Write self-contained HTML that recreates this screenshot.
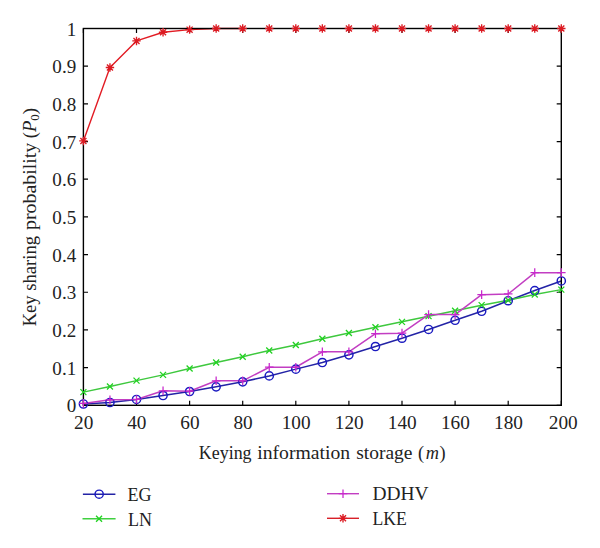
<!DOCTYPE html>
<html><head><meta charset="utf-8"><title>Key sharing probability</title>
<style>html,body{margin:0;padding:0;background:#fff;width:600px;height:548px;overflow:hidden}svg{display:block}</style>
</head><body><svg width="600" height="548" viewBox="0 0 600 548" font-family="'Liberation Serif', serif" font-size="18" fill="#222">
<rect width="600" height="548" fill="#fff"/>
<g><polyline points="83.40,403.98 109.95,402.47 136.50,399.46 163.05,395.50 189.60,391.51 216.15,386.84 242.70,381.83 269.25,375.91 295.80,369.13 322.35,362.53 348.90,354.81 375.45,346.52 402.00,338.23 428.55,329.45 455.10,320.29 481.65,311.29 508.20,300.74 534.75,290.56 561.30,280.96" fill="none" stroke="#2323a6" stroke-width="1.5" stroke-linejoin="round"/><polyline points="83.40,392.11 109.95,386.46 136.50,380.62 163.05,374.89 189.60,368.49 216.15,362.53 242.70,356.69 269.25,350.51 295.80,345.01 322.35,338.76 348.90,332.95 375.45,327.30 402.00,321.84 428.55,316.15 455.10,310.72 481.65,305.15 508.20,300.17 534.75,294.52 561.30,289.62" fill="none" stroke="#3ec83e" stroke-width="1.5" stroke-linejoin="round"/><polyline points="83.40,403.42 109.95,399.84 136.50,399.46 163.05,390.79 189.60,391.21 216.15,380.81 242.70,380.81 269.25,367.24 295.80,367.24 322.35,351.79 348.90,351.79 375.45,333.71 402.00,333.14 428.55,314.60 455.10,314.60 481.65,294.63 508.20,293.96 534.75,272.67 561.30,272.67" fill="none" stroke="#c23ec2" stroke-width="1.5" stroke-linejoin="round"/><polyline points="83.40,140.94 109.95,67.46 136.50,40.93 163.05,32.27 189.60,29.63 216.15,28.50 242.70,28.50" fill="none" stroke="#e21c24" stroke-width="1.4" stroke-linejoin="round"/></g>
<g><rect x="83.4" y="28.5" width="477.9" height="376.8" fill="none" stroke="#000" stroke-width="1.4"/><path d="M83.40,405.3V400.7M83.40,28.5V33.1" stroke="#000" stroke-width="1.2"/><path d="M136.50,405.3V400.7M136.50,28.5V33.1" stroke="#000" stroke-width="1.2"/><path d="M189.60,405.3V400.7M189.60,28.5V33.1" stroke="#000" stroke-width="1.2"/><path d="M242.70,405.3V400.7M242.70,28.5V33.1" stroke="#000" stroke-width="1.2"/><path d="M295.80,405.3V400.7M295.80,28.5V33.1" stroke="#000" stroke-width="1.2"/><path d="M348.90,405.3V400.7M348.90,28.5V33.1" stroke="#000" stroke-width="1.2"/><path d="M402.00,405.3V400.7M402.00,28.5V33.1" stroke="#000" stroke-width="1.2"/><path d="M455.10,405.3V400.7M455.10,28.5V33.1" stroke="#000" stroke-width="1.2"/><path d="M508.20,405.3V400.7M508.20,28.5V33.1" stroke="#000" stroke-width="1.2"/><path d="M561.30,405.3V400.7M561.30,28.5V33.1" stroke="#000" stroke-width="1.2"/><path d="M83.4,405.30H88.0M561.3,405.30H556.6999999999999" stroke="#000" stroke-width="1.2"/><path d="M83.4,367.62H88.0M561.3,367.62H556.6999999999999" stroke="#000" stroke-width="1.2"/><path d="M83.4,329.94H88.0M561.3,329.94H556.6999999999999" stroke="#000" stroke-width="1.2"/><path d="M83.4,292.26H88.0M561.3,292.26H556.6999999999999" stroke="#000" stroke-width="1.2"/><path d="M83.4,254.58H88.0M561.3,254.58H556.6999999999999" stroke="#000" stroke-width="1.2"/><path d="M83.4,216.90H88.0M561.3,216.90H556.6999999999999" stroke="#000" stroke-width="1.2"/><path d="M83.4,179.22H88.0M561.3,179.22H556.6999999999999" stroke="#000" stroke-width="1.2"/><path d="M83.4,141.54H88.0M561.3,141.54H556.6999999999999" stroke="#000" stroke-width="1.2"/><path d="M83.4,103.86H88.0M561.3,103.86H556.6999999999999" stroke="#000" stroke-width="1.2"/><path d="M83.4,66.18H88.0M561.3,66.18H556.6999999999999" stroke="#000" stroke-width="1.2"/><path d="M83.4,28.50H88.0M561.3,28.50H556.6999999999999" stroke="#000" stroke-width="1.2"/></g>
<g><circle cx="83.40" cy="403.98" r="4.1" fill="none" stroke="#1a1ac0" stroke-width="1.45"/><circle cx="109.95" cy="402.47" r="4.1" fill="none" stroke="#1a1ac0" stroke-width="1.45"/><circle cx="136.50" cy="399.46" r="4.1" fill="none" stroke="#1a1ac0" stroke-width="1.45"/><circle cx="163.05" cy="395.50" r="4.1" fill="none" stroke="#1a1ac0" stroke-width="1.45"/><circle cx="189.60" cy="391.51" r="4.1" fill="none" stroke="#1a1ac0" stroke-width="1.45"/><circle cx="216.15" cy="386.84" r="4.1" fill="none" stroke="#1a1ac0" stroke-width="1.45"/><circle cx="242.70" cy="381.83" r="4.1" fill="none" stroke="#1a1ac0" stroke-width="1.45"/><circle cx="269.25" cy="375.91" r="4.1" fill="none" stroke="#1a1ac0" stroke-width="1.45"/><circle cx="295.80" cy="369.13" r="4.1" fill="none" stroke="#1a1ac0" stroke-width="1.45"/><circle cx="322.35" cy="362.53" r="4.1" fill="none" stroke="#1a1ac0" stroke-width="1.45"/><circle cx="348.90" cy="354.81" r="4.1" fill="none" stroke="#1a1ac0" stroke-width="1.45"/><circle cx="375.45" cy="346.52" r="4.1" fill="none" stroke="#1a1ac0" stroke-width="1.45"/><circle cx="402.00" cy="338.23" r="4.1" fill="none" stroke="#1a1ac0" stroke-width="1.45"/><circle cx="428.55" cy="329.45" r="4.1" fill="none" stroke="#1a1ac0" stroke-width="1.45"/><circle cx="455.10" cy="320.29" r="4.1" fill="none" stroke="#1a1ac0" stroke-width="1.45"/><circle cx="481.65" cy="311.29" r="4.1" fill="none" stroke="#1a1ac0" stroke-width="1.45"/><circle cx="508.20" cy="300.74" r="4.1" fill="none" stroke="#1a1ac0" stroke-width="1.45"/><circle cx="534.75" cy="290.56" r="4.1" fill="none" stroke="#1a1ac0" stroke-width="1.45"/><circle cx="561.30" cy="280.96" r="4.1" fill="none" stroke="#1a1ac0" stroke-width="1.45"/><path d="M80.40,389.11L86.40,395.11M80.40,395.11L86.40,389.11" stroke="#22d222" stroke-width="1.3" fill="none"/><path d="M106.95,383.46L112.95,389.46M106.95,389.46L112.95,383.46" stroke="#22d222" stroke-width="1.3" fill="none"/><path d="M133.50,377.62L139.50,383.62M133.50,383.62L139.50,377.62" stroke="#22d222" stroke-width="1.3" fill="none"/><path d="M160.05,371.89L166.05,377.89M160.05,377.89L166.05,371.89" stroke="#22d222" stroke-width="1.3" fill="none"/><path d="M186.60,365.49L192.60,371.49M186.60,371.49L192.60,365.49" stroke="#22d222" stroke-width="1.3" fill="none"/><path d="M213.15,359.53L219.15,365.53M213.15,365.53L219.15,359.53" stroke="#22d222" stroke-width="1.3" fill="none"/><path d="M239.70,353.69L245.70,359.69M239.70,359.69L245.70,353.69" stroke="#22d222" stroke-width="1.3" fill="none"/><path d="M266.25,347.51L272.25,353.51M266.25,353.51L272.25,347.51" stroke="#22d222" stroke-width="1.3" fill="none"/><path d="M292.80,342.01L298.80,348.01M292.80,348.01L298.80,342.01" stroke="#22d222" stroke-width="1.3" fill="none"/><path d="M319.35,335.76L325.35,341.76M319.35,341.76L325.35,335.76" stroke="#22d222" stroke-width="1.3" fill="none"/><path d="M345.90,329.95L351.90,335.95M345.90,335.95L351.90,329.95" stroke="#22d222" stroke-width="1.3" fill="none"/><path d="M372.45,324.30L378.45,330.30M372.45,330.30L378.45,324.30" stroke="#22d222" stroke-width="1.3" fill="none"/><path d="M399.00,318.84L405.00,324.84M399.00,324.84L405.00,318.84" stroke="#22d222" stroke-width="1.3" fill="none"/><path d="M425.55,313.15L431.55,319.15M425.55,319.15L431.55,313.15" stroke="#22d222" stroke-width="1.3" fill="none"/><path d="M452.10,307.72L458.10,313.72M452.10,313.72L458.10,307.72" stroke="#22d222" stroke-width="1.3" fill="none"/><path d="M478.65,302.15L484.65,308.15M478.65,308.15L484.65,302.15" stroke="#22d222" stroke-width="1.3" fill="none"/><path d="M505.20,297.17L511.20,303.17M505.20,303.17L511.20,297.17" stroke="#22d222" stroke-width="1.3" fill="none"/><path d="M531.75,291.52L537.75,297.52M531.75,297.52L537.75,291.52" stroke="#22d222" stroke-width="1.3" fill="none"/><path d="M558.30,286.62L564.30,292.62M558.30,292.62L564.30,286.62" stroke="#22d222" stroke-width="1.3" fill="none"/><path d="M79.10,403.42L87.70,403.42M83.40,399.12L83.40,407.72" stroke="#c828cc" stroke-width="1.25" fill="none"/><path d="M105.65,399.84L114.25,399.84M109.95,395.54L109.95,404.14" stroke="#c828cc" stroke-width="1.25" fill="none"/><path d="M132.20,399.46L140.80,399.46M136.50,395.16L136.50,403.76" stroke="#c828cc" stroke-width="1.25" fill="none"/><path d="M158.75,390.79L167.35,390.79M163.05,386.49L163.05,395.09" stroke="#c828cc" stroke-width="1.25" fill="none"/><path d="M185.30,391.21L193.90,391.21M189.60,386.91L189.60,395.51" stroke="#c828cc" stroke-width="1.25" fill="none"/><path d="M211.85,380.81L220.45,380.81M216.15,376.51L216.15,385.11" stroke="#c828cc" stroke-width="1.25" fill="none"/><path d="M238.40,380.81L247.00,380.81M242.70,376.51L242.70,385.11" stroke="#c828cc" stroke-width="1.25" fill="none"/><path d="M264.95,367.24L273.55,367.24M269.25,362.94L269.25,371.54" stroke="#c828cc" stroke-width="1.25" fill="none"/><path d="M291.50,367.24L300.10,367.24M295.80,362.94L295.80,371.54" stroke="#c828cc" stroke-width="1.25" fill="none"/><path d="M318.05,351.79L326.65,351.79M322.35,347.49L322.35,356.09" stroke="#c828cc" stroke-width="1.25" fill="none"/><path d="M344.60,351.79L353.20,351.79M348.90,347.49L348.90,356.09" stroke="#c828cc" stroke-width="1.25" fill="none"/><path d="M371.15,333.71L379.75,333.71M375.45,329.41L375.45,338.01" stroke="#c828cc" stroke-width="1.25" fill="none"/><path d="M397.70,333.14L406.30,333.14M402.00,328.84L402.00,337.44" stroke="#c828cc" stroke-width="1.25" fill="none"/><path d="M424.25,314.60L432.85,314.60M428.55,310.30L428.55,318.90" stroke="#c828cc" stroke-width="1.25" fill="none"/><path d="M450.80,314.60L459.40,314.60M455.10,310.30L455.10,318.90" stroke="#c828cc" stroke-width="1.25" fill="none"/><path d="M477.35,294.63L485.95,294.63M481.65,290.33L481.65,298.93" stroke="#c828cc" stroke-width="1.25" fill="none"/><path d="M503.90,293.96L512.50,293.96M508.20,289.66L508.20,298.26" stroke="#c828cc" stroke-width="1.25" fill="none"/><path d="M530.45,272.67L539.05,272.67M534.75,268.37L534.75,276.97" stroke="#c828cc" stroke-width="1.25" fill="none"/><path d="M557.00,272.67L565.60,272.67M561.30,268.37L561.30,276.97" stroke="#c828cc" stroke-width="1.25" fill="none"/><path d="M79.20,140.94L87.60,140.94M83.40,136.74L83.40,145.14M80.38,137.91L86.42,143.96M80.38,143.96L86.42,137.91" stroke="#dc1a22" stroke-width="1.35" fill="none"/><path d="M105.75,67.46L114.15,67.46M109.95,63.26L109.95,71.66M106.93,64.44L112.97,70.49M106.93,70.49L112.97,64.44" stroke="#dc1a22" stroke-width="1.35" fill="none"/><path d="M132.30,40.93L140.70,40.93M136.50,36.73L136.50,45.13M133.48,37.91L139.52,43.96M133.48,43.96L139.52,37.91" stroke="#dc1a22" stroke-width="1.35" fill="none"/><path d="M158.85,32.27L167.25,32.27M163.05,28.07L163.05,36.47M160.03,29.24L166.07,35.29M160.03,35.29L166.07,29.24" stroke="#dc1a22" stroke-width="1.35" fill="none"/><path d="M185.40,29.63L193.80,29.63M189.60,25.43L189.60,33.83M186.58,26.61L192.62,32.65M186.58,32.65L192.62,26.61" stroke="#dc1a22" stroke-width="1.35" fill="none"/><path d="M211.95,28.50L220.35,28.50M216.15,24.30L216.15,32.70M213.13,25.48L219.17,31.52M213.13,31.52L219.17,25.48" stroke="#dc1a22" stroke-width="1.35" fill="none"/><path d="M238.50,28.50L246.90,28.50M242.70,24.30L242.70,32.70M239.68,25.48L245.72,31.52M239.68,31.52L245.72,25.48" stroke="#dc1a22" stroke-width="1.35" fill="none"/><path d="M265.05,28.50L273.45,28.50M269.25,24.30L269.25,32.70M266.23,25.48L272.27,31.52M266.23,31.52L272.27,25.48" stroke="#dc1a22" stroke-width="1.35" fill="none"/><path d="M291.60,28.50L300.00,28.50M295.80,24.30L295.80,32.70M292.78,25.48L298.82,31.52M292.78,31.52L298.82,25.48" stroke="#dc1a22" stroke-width="1.35" fill="none"/><path d="M318.15,28.50L326.55,28.50M322.35,24.30L322.35,32.70M319.33,25.48L325.37,31.52M319.33,31.52L325.37,25.48" stroke="#dc1a22" stroke-width="1.35" fill="none"/><path d="M344.70,28.50L353.10,28.50M348.90,24.30L348.90,32.70M345.88,25.48L351.92,31.52M345.88,31.52L351.92,25.48" stroke="#dc1a22" stroke-width="1.35" fill="none"/><path d="M371.25,28.50L379.65,28.50M375.45,24.30L375.45,32.70M372.43,25.48L378.47,31.52M372.43,31.52L378.47,25.48" stroke="#dc1a22" stroke-width="1.35" fill="none"/><path d="M397.80,28.50L406.20,28.50M402.00,24.30L402.00,32.70M398.98,25.48L405.02,31.52M398.98,31.52L405.02,25.48" stroke="#dc1a22" stroke-width="1.35" fill="none"/><path d="M424.35,28.50L432.75,28.50M428.55,24.30L428.55,32.70M425.53,25.48L431.57,31.52M425.53,31.52L431.57,25.48" stroke="#dc1a22" stroke-width="1.35" fill="none"/><path d="M450.90,28.50L459.30,28.50M455.10,24.30L455.10,32.70M452.08,25.48L458.12,31.52M452.08,31.52L458.12,25.48" stroke="#dc1a22" stroke-width="1.35" fill="none"/><path d="M477.45,28.50L485.85,28.50M481.65,24.30L481.65,32.70M478.63,25.48L484.67,31.52M478.63,31.52L484.67,25.48" stroke="#dc1a22" stroke-width="1.35" fill="none"/><path d="M504.00,28.50L512.40,28.50M508.20,24.30L508.20,32.70M505.18,25.48L511.22,31.52M505.18,31.52L511.22,25.48" stroke="#dc1a22" stroke-width="1.35" fill="none"/><path d="M530.55,28.50L538.95,28.50M534.75,24.30L534.75,32.70M531.73,25.48L537.77,31.52M531.73,31.52L537.77,25.48" stroke="#dc1a22" stroke-width="1.35" fill="none"/><path d="M557.10,28.50L565.50,28.50M561.30,24.30L561.30,32.70M558.28,25.48L564.32,31.52M558.28,31.52L564.32,25.48" stroke="#dc1a22" stroke-width="1.35" fill="none"/></g>
<g><text transform="translate(83.70,428.6) scale(1.07,1)" text-anchor="middle">20</text><text transform="translate(136.80,428.6) scale(1.07,1)" text-anchor="middle">40</text><text transform="translate(189.90,428.6) scale(1.07,1)" text-anchor="middle">60</text><text transform="translate(243.00,428.6) scale(1.07,1)" text-anchor="middle">80</text><text transform="translate(296.10,428.6) scale(1.07,1)" text-anchor="middle">100</text><text transform="translate(349.20,428.6) scale(1.07,1)" text-anchor="middle">120</text><text transform="translate(402.30,428.6) scale(1.07,1)" text-anchor="middle">140</text><text transform="translate(455.40,428.6) scale(1.07,1)" text-anchor="middle">160</text><text transform="translate(508.50,428.6) scale(1.07,1)" text-anchor="middle">180</text><text transform="translate(563.30,428.6) scale(1.07,1)" text-anchor="middle">200</text><text transform="translate(76.2,412.40) scale(1.06,1)" text-anchor="end">0</text><text transform="translate(76.2,374.72) scale(1.06,1)" text-anchor="end">0.1</text><text transform="translate(76.2,337.04) scale(1.06,1)" text-anchor="end">0.2</text><text transform="translate(76.2,299.36) scale(1.06,1)" text-anchor="end">0.3</text><text transform="translate(76.2,261.68) scale(1.06,1)" text-anchor="end">0.4</text><text transform="translate(76.2,224.00) scale(1.06,1)" text-anchor="end">0.5</text><text transform="translate(76.2,186.32) scale(1.06,1)" text-anchor="end">0.6</text><text transform="translate(76.2,148.64) scale(1.06,1)" text-anchor="end">0.7</text><text transform="translate(76.2,110.96) scale(1.06,1)" text-anchor="end">0.8</text><text transform="translate(76.2,73.28) scale(1.06,1)" text-anchor="end">0.9</text><text transform="translate(76.2,35.60) scale(1.06,1)" text-anchor="end">1</text><text transform="translate(198.8,459) scale(0.98,1)" font-size="18.3">Keying</text><text transform="translate(257.2,459) scale(1.076,1)" font-size="18.3">information</text><text transform="translate(356.2,459) scale(1.065,1)" font-size="18.3">storage</text><text transform="translate(418.1,459) scale(1.0,1)" font-size="18.3">(<tspan font-style="italic" dx="1.5">m</tspan><tspan dx="0.5">)</tspan></text><text transform="translate(36.4,326.3) rotate(-90) scale(1.016,1)" font-size="18.3">Key sharing</text><text transform="translate(36.4,230) rotate(-90) scale(1.086,1)" font-size="18.3">probability</text><text transform="translate(36.4,138.3) rotate(-90) scale(1.02,1)" font-size="18.3">(<tspan font-style="italic">P</tspan><tspan font-size="12.5" dy="2.5">0</tspan><tspan dy="-2.5">)</tspan></text></g>
<g><path d="M82.9,494.2H115.4" stroke="#2323a6" stroke-width="1.4"/><circle cx="99.15" cy="494.20" r="4.1" fill="none" stroke="#1a1ac0" stroke-width="1.45"/><text transform="translate(127.6,500.7) scale(1.0,1)">EG</text><path d="M82.5,518.7H115.6" stroke="#40d040" stroke-width="1.4"/><path d="M96.05,515.70L102.05,521.70M96.05,521.70L102.05,515.70" stroke="#22d222" stroke-width="1.3" fill="none"/><text transform="translate(128.0,525.5) scale(1.0,1)">LN</text><path d="M327,493.7H359" stroke="#c23ec2" stroke-width="1.4"/><path d="M338.70,493.70L347.30,493.70M343.00,489.40L343.00,498.00" stroke="#c828cc" stroke-width="1.25" fill="none"/><text transform="translate(372.4,499.9) scale(1.08,1)">DDHV</text><path d="M327,518.3H359" stroke="#d82028" stroke-width="1.4"/><path d="M338.80,518.30L347.20,518.30M343.00,514.10L343.00,522.50M339.98,515.28L346.02,521.32M339.98,521.32L346.02,515.28" stroke="#dc1a22" stroke-width="1.35" fill="none"/><text transform="translate(372.4,524.5) scale(0.98,1)">LKE</text></g>
</svg></body></html>
